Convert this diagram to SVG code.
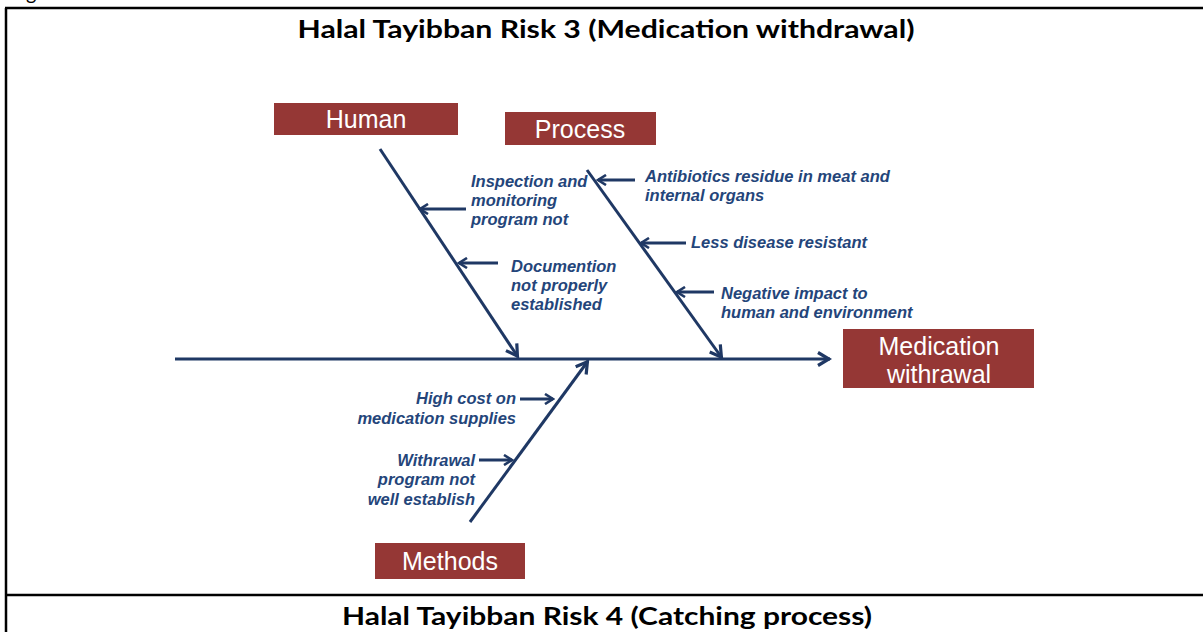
<svg xmlns="http://www.w3.org/2000/svg" width="1203" height="632" viewBox="0 0 1203 632">
<defs>
<style>
.frame{stroke:#000;stroke-width:2.5;fill:none}
.title{font-family:Lato,"Open Sans",sans-serif;font-weight:bold;font-size:24px;fill:#000}
.box{fill:#953735}
.btxt{font-family:"Liberation Sans",Arial,sans-serif;font-size:25px;fill:#fff;text-anchor:middle}
.bone{stroke:#1F3864;stroke-width:3;fill:none}
.lbl{font-family:"Liberation Sans",Arial,sans-serif;font-size:16.5px;font-weight:bold;font-style:italic;fill:#24457A}
.r{text-anchor:end}
</style>
<marker id="ah" viewBox="0 0 12 12" refX="10" refY="6" markerWidth="12" markerHeight="12" markerUnits="userSpaceOnUse" orient="auto">
<path d="M2,1 L10,6 L2,11" fill="none" stroke="#1F3864" stroke-width="2.6"/>
</marker>
<marker id="ahBig" viewBox="0 0 16 16" refX="14" refY="8" markerWidth="16" markerHeight="16" markerUnits="userSpaceOnUse" orient="auto">
<path d="M2,1.5 L13,8 L2,14.5" fill="none" stroke="#1F3864" stroke-width="3.2"/>
</marker>
</defs>
<rect width="1203" height="632" fill="#fff"/>
<text x="26" y="0" style="font-family:Lato,sans-serif;font-size:20px;fill:#000">g</text>
<g id="frame">
<line class="frame" x1="5" y1="8" x2="1203" y2="8"/>
<line class="frame" x1="6" y1="8" x2="6" y2="632"/>
<line class="frame" x1="6" y1="595" x2="1203" y2="595"/>
</g>
<text class="title" x="606" y="38" text-anchor="middle" textLength="617" lengthAdjust="spacingAndGlyphs">Halal Tayibban Risk 3 (Medication withdrawal)</text>
<text class="title" x="607" y="625" text-anchor="middle" textLength="530" lengthAdjust="spacingAndGlyphs">Halal Tayibban Risk 4 (Catching process)</text>
<g id="connectors">
<line class="bone" x1="175" y1="359" x2="830" y2="359" marker-end="url(#ahBig)"/>
<line class="bone" x1="380" y1="149" x2="518" y2="357" marker-end="url(#ahBig)"/>
<line class="bone" x1="587" y1="170" x2="722" y2="358" marker-end="url(#ahBig)"/>
<line class="bone" x1="470" y1="522" x2="588" y2="361" marker-end="url(#ahBig)"/>
<line class="bone" x1="635" y1="180" x2="598" y2="180" marker-end="url(#ah)"/>
<line class="bone" x1="686" y1="243" x2="641" y2="243" marker-end="url(#ah)"/>
<line class="bone" x1="714" y1="292" x2="677" y2="292" marker-end="url(#ah)"/>
<line class="bone" x1="466" y1="209" x2="420" y2="209" marker-end="url(#ah)"/>
<line class="bone" x1="498" y1="263" x2="459" y2="263" marker-end="url(#ah)"/>
<line class="bone" x1="520" y1="399" x2="553" y2="399" marker-end="url(#ah)"/>
<line class="bone" x1="479" y1="460" x2="512" y2="460" marker-end="url(#ah)"/>
</g>
<g id="human">
<rect class="box" x="274" y="103" width="184" height="32"/>
<text class="btxt" x="366" y="128">Human</text>
</g>
<g id="process">
<rect class="box" x="505" y="112" width="151" height="33"/>
<text class="btxt" x="580" y="138">Process</text>
</g>
<g id="effect">
<rect class="box" x="843" y="329" width="191" height="59"/>
<text class="btxt" x="939" y="355">Medication</text>
<text class="btxt" x="939" y="383">withrawal</text>
</g>
<g id="methods">
<rect class="box" x="375" y="543" width="150" height="36"/>
<text class="btxt" x="450" y="570">Methods</text>
</g>
<g id="labels">
<text class="lbl" x="471" y="187">Inspection and</text>
<text class="lbl" x="471" y="206">monitoring</text>
<text class="lbl" x="471" y="225">program not</text>
<text class="lbl" x="645" y="182">Antibiotics residue in meat and</text>
<text class="lbl" x="645" y="201">internal organs</text>
<text class="lbl" x="691" y="248">Less disease resistant</text>
<text class="lbl" x="721" y="299">Negative impact to</text>
<text class="lbl" x="721" y="318">human and environment</text>
<text class="lbl" x="511" y="272">Documention</text>
<text class="lbl" x="511" y="291">not properly</text>
<text class="lbl" x="511" y="310">established</text>
<text class="lbl r" x="516" y="404">High cost on</text>
<text class="lbl r" x="516" y="424">medication supplies</text>
<text class="lbl r" x="475" y="466">Withrawal</text>
<text class="lbl r" x="475" y="485">program not</text>
<text class="lbl r" x="475" y="505">well establish</text>
</g>
</svg>
